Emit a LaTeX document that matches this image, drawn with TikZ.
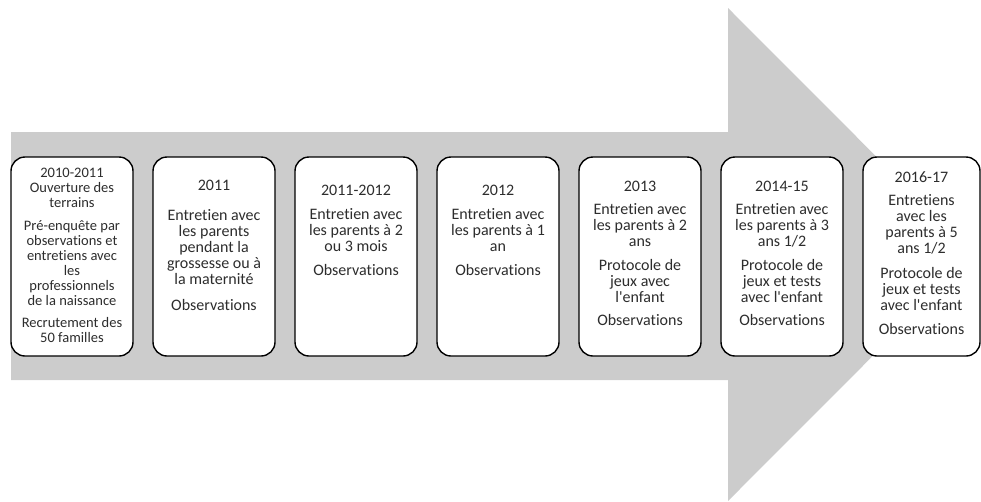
\documentclass[tikz,border=0pt]{standalone}
\usepackage{fontspec}
\setmainfont{Carlito}[Ligatures={NoCommon}]
\usepackage{tikz}
\usetikzlibrary{positioning}
\definecolor{arrowgray}{RGB}{204,204,204}
\definecolor{textgray}{RGB}{45,45,45}
\newcommand{\apos}{\textquotesingle}
\tikzstyle{phase}=[draw=black, fill=white, line width=1.4pt, rounded corners=14pt, minimum width=122pt, minimum height=199pt, inner sep=0pt]
\tikzstyle{phase text}=[align=center, inner sep=0pt, text=textgray, font=\fontsize{16}{16}\selectfont]
\tikzstyle{small text}=[phase text, font=\fontsize{14.5}{15}\selectfont]

\begin{document}
\begin{tikzpicture}[x=1pt, y=-1pt]
\def\firstx{72}
\def\boxsep{142}
\def\midy{256.5}

    \useasboundingbox (0,0) rectangle (981,501);

    % big grey arrow behind the boxes
    \fill[arrowgray] (11,132) -- (728,132) -- (728,8) -- (974,254.5) -- (728,501) -- (728,380) -- (11,380) -- cycle;

    % Phases
    \node[phase] (P-1) at (\firstx + 0*\boxsep, \midy) {};
    \node[small text, below=11.5pt of P-1.north] (T-1) {2010-2011\\ Ouverture des\\ terrains\\[8pt]
        Pré-enquête par\\ observations et\\ entretiens avec\\ les\\ professionnels\\ de la naissance\\[7pt]
        Recrutement des\\ 50 familles};

    \node[phase] (P-2) at (\firstx + 1*\boxsep, \midy) {};
    \node[phase text, below=24pt of P-2.north] (T-2) {2011\\[14pt] Entretien avec\\ les parents\\ pendant la\\
        grossesse ou à\\ la maternité\\[10pt] Observations};

    \node[phase] (P-3) at (\firstx + 2*\boxsep, \midy) {};
    \node[phase text, below=29pt of P-3.north] (T-3) {2011-2012\\[8pt] Entretien avec\\ les parents à 2\\ ou 3 mois\\[8pt] Observations};

    \node[phase] (P-4) at (\firstx + 3*\boxsep, \midy) {};
    \node[phase text, below=29pt of P-4.north] (T-4) {2012\\[8pt] Entretien avec\\ les parents à 1\\ an\\[8pt] Observations};

    \node[phase] (P-5) at (\firstx + 4*\boxsep, \midy) {};
    \node[phase text, below=25pt of P-5.north] (T-5) {2013\\[7pt] Entretien avec\\ les parents à 2\\ ans\\[8pt]
        Protocole de\\ jeux avec\\ l\apos enfant\\[7pt] Observations};

    \node[phase] (P-6) at (\firstx + 5*\boxsep, \midy) {};
    \node[phase text, below=25pt of P-6.north] (T-6) {2014-15\\[7pt] Entretien avec\\ les parents à 3\\ ans 1/2\\[8pt]
        Protocole de\\ jeux et tests\\ avec l\apos enfant\\[7pt] Observations};

    % last one is cut a bit narrower by the page edge
    \node[phase, minimum width=117pt] (P-7) at (921.5, \midy) {};
    \node[phase text, below=15pt of P-7.north] (T-7) {2016-17\\[7pt] Entretiens\\ avec les\\ parents à 5\\ ans 1/2\\[9pt]
        Protocole de\\ jeux et tests\\ avec l\apos enfant\\[8pt] Observations};

\end{tikzpicture}
\end{document}
